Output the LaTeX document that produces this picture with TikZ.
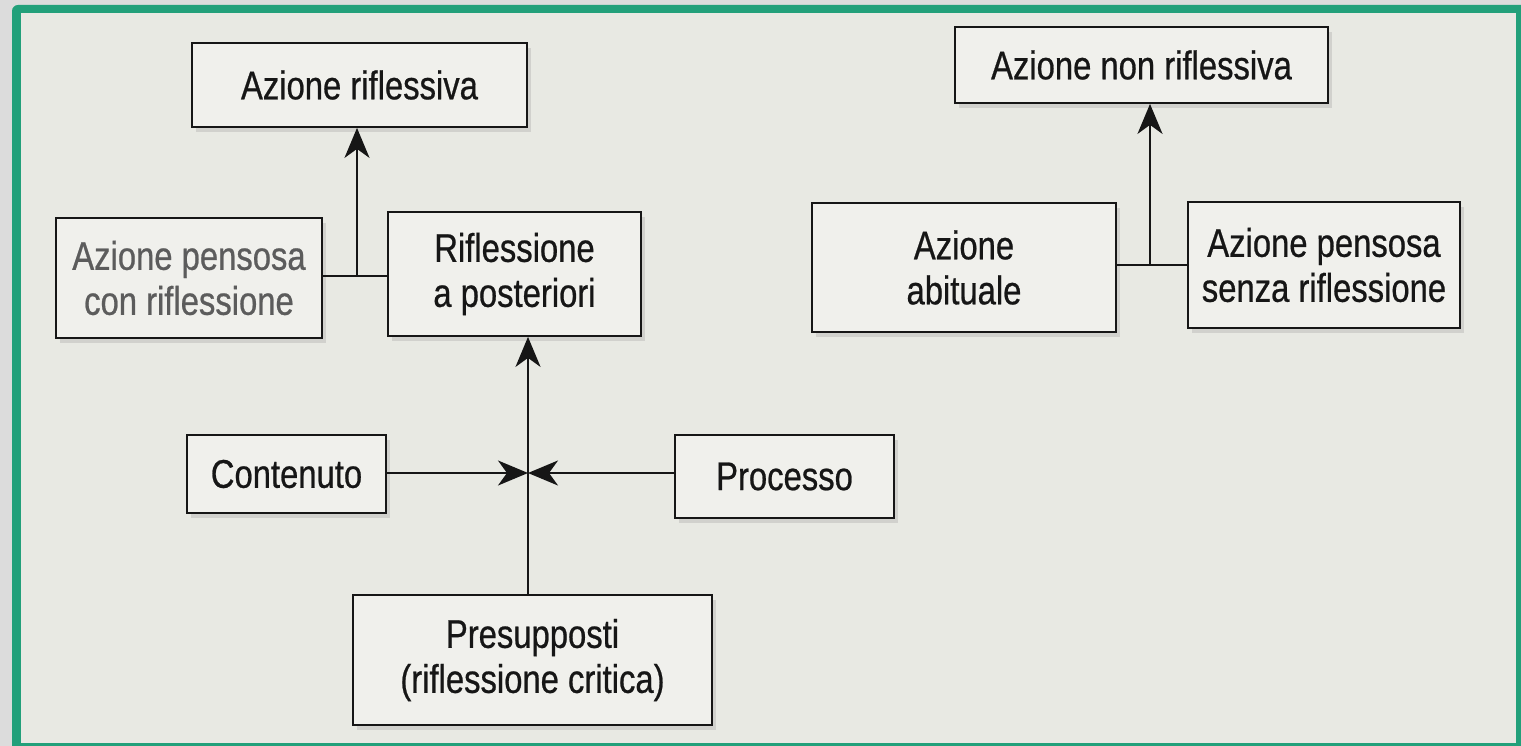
\documentclass[tikz,border=0pt]{standalone}
\usepackage{fontspec}
\setmainfont{Liberation Sans}[FakeStretch=0.82, FakeBold=0.6]
\usepackage{xcolor}
\usetikzlibrary{positioning,calc,arrows.meta,shadows}
\definecolor{framegreen}{RGB}{34,160,122}
\definecolor{outergray}{RGB}{220,220,220}
\definecolor{paper}{RGB}{232,233,227}
\definecolor{boxfill}{RGB}{240,240,236}
\definecolor{ink}{RGB}{22,22,22}

\begin{document}
\begin{tikzpicture}[x=1pt, y=-1pt,
    box/.style={draw=ink, line width=1.8pt, fill=boxfill, text=ink, align=center,
        font=\fontsize{40}{45}\selectfont, inner sep=0pt,
        drop shadow={opacity=0.22, shadow xshift=4pt, shadow yshift=-5pt}},
    link/.style={draw=ink, line width=2.2pt},
    arr/.style={link, -{Stealth[length=30pt, width=25pt, inset=9pt]}}]
    \useasboundingbox (0,0) rectangle (1521,746);
    \fill[outergray] (0,0) rectangle (1521,746);
    \fill[framegreen, rounded corners=6pt] (12,5) rectangle (1532,758);
    \fill[paper] (21,13) rectangle (1516,743);

    \node[box, minimum width=335pt, minimum height=84pt] (rifl) at (359.5,85) {Azione riflessiva};
    \node[box, minimum width=266pt, minimum height=120pt, text=ink!70] (pensCon) at (189,278) {Azione pensosa\\con riflessione};
    \node[box, minimum width=253pt, minimum height=124pt] (post) at (514.5,274) {Riflessione\\a posteriori};
    \node[box, minimum width=373pt, minimum height=76pt] (nonRifl) at (1141.5,65) {Azione non riflessiva};
    \node[box, minimum width=304pt, minimum height=129pt] (abit) at (964,267.5) {Azione\\abituale};
    \node[box, minimum width=272pt, minimum height=126pt] (pensSenza) at (1324,265) {Azione pensosa\\senza riflessione};
    \node[box, minimum width=199pt, minimum height=78pt] (cont) at (286.5,474) {Contenuto};
    \node[box, minimum width=219pt, minimum height=83pt] (proc) at (784.5,476.5) {Processo};
    \node[box, minimum width=359pt, minimum height=130pt] (pres) at (532.5,660) {Presupposti\\(riflessione critica)};

    \coordinate (jl) at (357,276);
    \coordinate (jr) at (1150,265);
    \coordinate (mid) at (528,473);

    \draw[link] (pensCon.east |- jl) -- (post.west |- jl);
    \draw[arr] (jl) -- (jl |- rifl.south);
    \draw[link] (abit.east |- jr) -- (pensSenza.west |- jr);
    \draw[arr] (jr) -- (jr |- nonRifl.south);
    \draw[arr] (cont.east |- mid) -- (mid);
    \draw[arr] (proc.west |- mid) -- (mid);
    \draw[arr] (mid |- pres.north) -- (mid |- post.south);
\end{tikzpicture}
\end{document}
